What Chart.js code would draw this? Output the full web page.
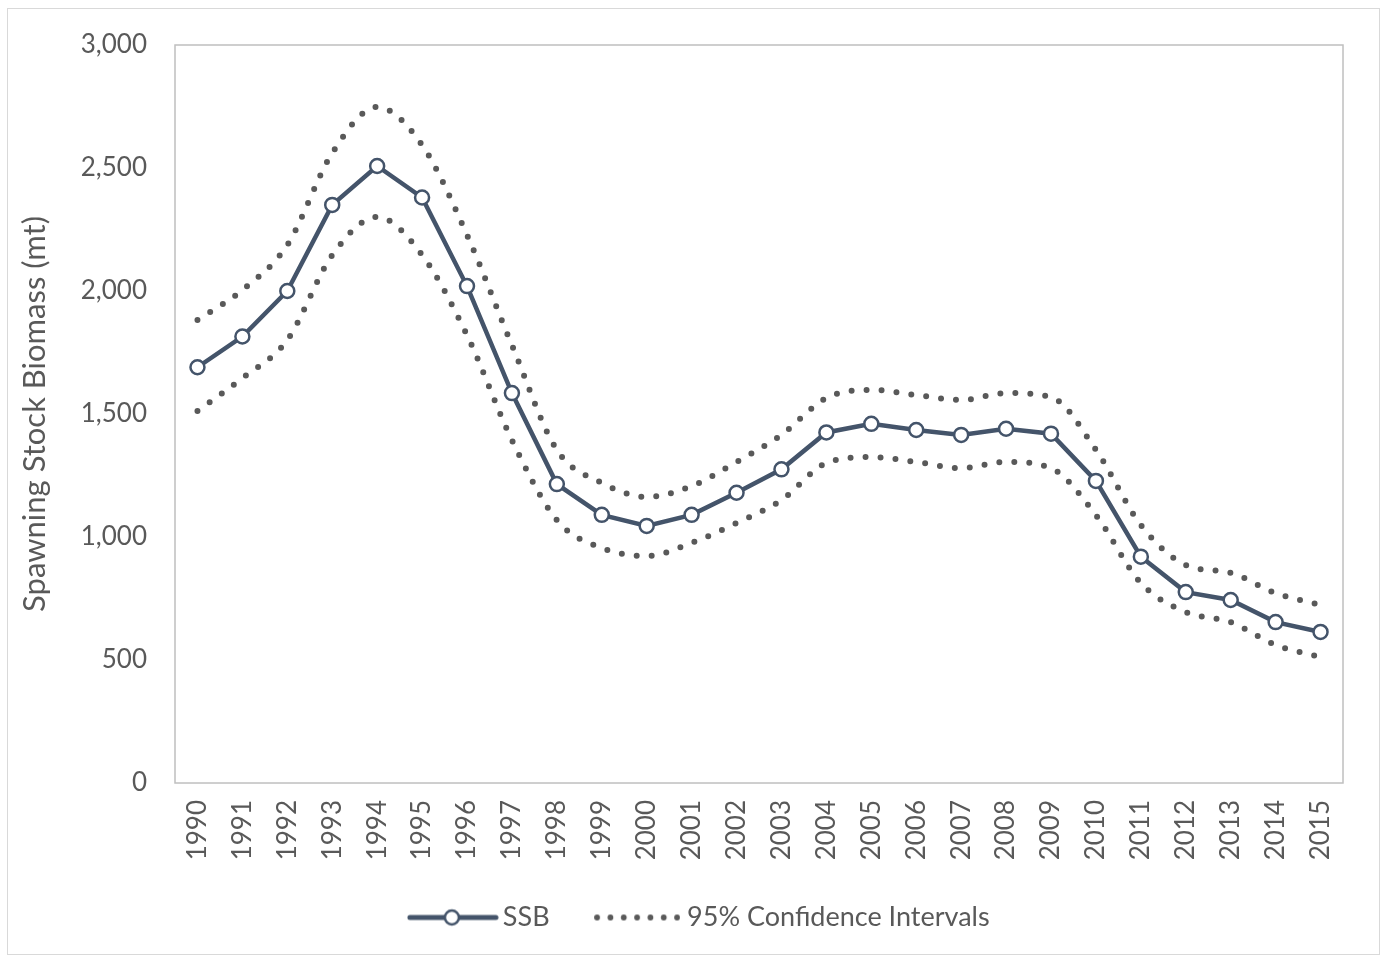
<!DOCTYPE html>
<html>
<head>
<meta charset="utf-8">
<script src="https://cdn.jsdelivr.net/npm/chart.js@4/dist/chart.umd.min.js"></script>
<style>
  html, body { margin: 0; padding: 0; background: #fff; }
  #wrap { width: 1384px; height: 958px; }
</style>
</head>
<body>
<div id="wrap"><canvas id="ssb_chart" width="1384" height="958"></canvas></div>
<script>
const years = ['1990', '1991', '1992', '1993', '1994', '1995', '1996', '1997', '1998', '1999',
    '2000', '2001', '2002', '2003', '2004', '2005', '2006', '2007', '2008', '2009',
    '2010', '2011', '2012', '2013', '2014', '2015'];

const ssb = [1690, 1815, 2000, 2350, 2508, 2380, 2020, 1585, 1215, 1090,
    1045, 1090, 1180, 1275, 1425, 1460, 1435, 1415, 1440, 1420,
    1228, 920, 776, 744, 654, 614];

const ciUpper = [1882, 2004, 2187, 2561, 2748, 2593, 2228, 1780, 1354, 1220,
    1163, 1207, 1305, 1415, 1565, 1598, 1577, 1557, 1585, 1569,
    1354, 1049, 886, 854, 772, 724];

const ciLower = [1512, 1646, 1801, 2146, 2301, 2146, 1821, 1394, 1069, 955,
    923, 976, 1057, 1150, 1301, 1325, 1305, 1280, 1305, 1280,
    1089, 813, 695, 654, 561, 512];

const yTicks = [0, 500, 1000, 1500, 2000, 2500, 3000];

const navy = '#44546a';
const dotGrey = '#595959';
const textGrey = '#595959';
const fontFamily = 'Lato, "Liberation Sans", sans-serif';

// legend swatches drawn on small canvases
function ssbSwatch() {
    const c = document.createElement('canvas');
    c.width = 92; c.height = 22;
    const g = c.getContext('2d');
    g.strokeStyle = navy;
    g.lineWidth = 5;
    g.lineCap = 'round';
    g.beginPath(); g.moveTo(3, 11); g.lineTo(89, 11); g.stroke();
    g.fillStyle = '#fff';
    g.lineWidth = 2.5;
    g.beginPath(); g.arc(45, 11, 7, 0, Math.PI * 2); g.fill(); g.stroke();
    return c;
}

function dotSwatch() {
    const c = document.createElement('canvas');
    c.width = 86; c.height = 22;
    const g = c.getContext('2d');
    g.fillStyle = dotGrey;
    for (let i = 0; i < 7; i++) {
        g.beginPath(); g.arc(3 + i * 13.33, 11, 2.9, 0, Math.PI * 2); g.fill();
    }
    return c;
}

const framePlugin = {
    id: 'frame',
    afterLayout(chart) {
        // shift legend so it sits where the original one does
        chart.legend.left = 63;
        chart.legend.top -= 12;
        chart.legend.bottom -= 12;
    },
    beforeDraw(chart) {
        const ctx = chart.ctx;
        ctx.save();
        ctx.strokeStyle = '#d9d9d9';
        ctx.lineWidth = 1;
        ctx.strokeRect(7.5, 8.5, 1372, 946);
        ctx.restore();
    },
    beforeDatasetsDraw(chart) {
        const a = chart.chartArea;
        const ctx = chart.ctx;
        ctx.save();
        ctx.strokeStyle = '#bfbfbf';
        ctx.lineWidth = 1.5;
        ctx.strokeRect(a.left, a.top, a.right - a.left, a.bottom - a.top);
        ctx.restore();
    }
};

const data_chart = {
    labels: years,
    datasets: [{
        label: 'SSB',
        data: ssb,
        borderColor: navy,
        borderWidth: 4.5,
        tension: 0,
        pointRadius: 7,
        pointBorderWidth: 2.5,
        pointBackgroundColor: '#fff',
        pointBorderColor: navy,
        order: 0,
    }, {
        label: '95% Confidence Intervals',
        data: ciUpper,
        borderColor: dotGrey,
        borderWidth: 6,
        borderDash: [0, 15],
        borderCapStyle: 'round',
        tension: 0.4,
        cubicInterpolationMode: 'monotone',
        pointRadius: 0,
        order: 1,
    }, {
        label: 'lower',
        data: ciLower,
        borderColor: dotGrey,
        borderWidth: 6,
        borderDash: [0, 15],
        borderCapStyle: 'round',
        tension: 0.4,
        cubicInterpolationMode: 'monotone',
        pointRadius: 0,
        order: 1,
    }],
};

const ssb_config = {
    type: 'line',
    data: data_chart,
    plugins: [framePlugin],
    options: {
        responsive: false,
        animation: false,
        layout: {
            padding: { top: 45, right: 41, left: 0, bottom: 5 },
        },
        scales: {
            x: {
                offset: true,
                grid: { display: false, drawTicks: false },
                border: { display: false },
                ticks: {
                    color: textGrey,
                    font: { family: fontFamily, size: 26 },
                    minRotation: 90,
                    maxRotation: 90,
                    padding: 17,
                    autoSkip: false,
                },
                afterFit(scale) { scale.height = 82; },
            },
            y: {
                min: 0,
                max: 3000,
                afterBuildTicks(scale) {
                    scale.ticks = yTicks.map(v => ({ value: v }));
                },
                grid: { display: false, drawTicks: false },
                border: { display: false },
                ticks: {
                    color: textGrey,
                    font: { family: fontFamily, size: 26 },
                    padding: 28,
                    callback: v => v.toLocaleString('en-US'),
                },
                title: {
                    display: true,
                    text: 'Spawning Stock Biomass (mt)',
                    color: textGrey,
                    font: { family: fontFamily, size: 31 },
                    padding: { top: 16, bottom: 0 },
                },
                afterFit(scale) { scale.width = 175; },
            },
        },
        plugins: {
            tooltip: { enabled: false },
            legend: {
                position: 'bottom',
                labels: {
                    color: textGrey,
                    font: { family: fontFamily, size: 27 },
                    usePointStyle: true,
                    pointStyleWidth: 73,
                    padding: 51,
                    generateLabels(chart) {
                        return [
                            { text: 'SSB', pointStyle: ssbSwatch(), datasetIndex: 0, fontColor: textGrey, lineWidth: 0 },
                            { text: '95% Confidence Intervals', pointStyle: dotSwatch(), datasetIndex: 1, fontColor: textGrey, lineWidth: 0 },
                        ];
                    },
                },
            },
        },
    },
};

function createChart() {
    const ctx = document.getElementById('ssb_chart').getContext('2d');
    window.chart = new Chart(ctx, ssb_config);
    return window.chart;
}

createChart();
</script>
</body>
</html>
